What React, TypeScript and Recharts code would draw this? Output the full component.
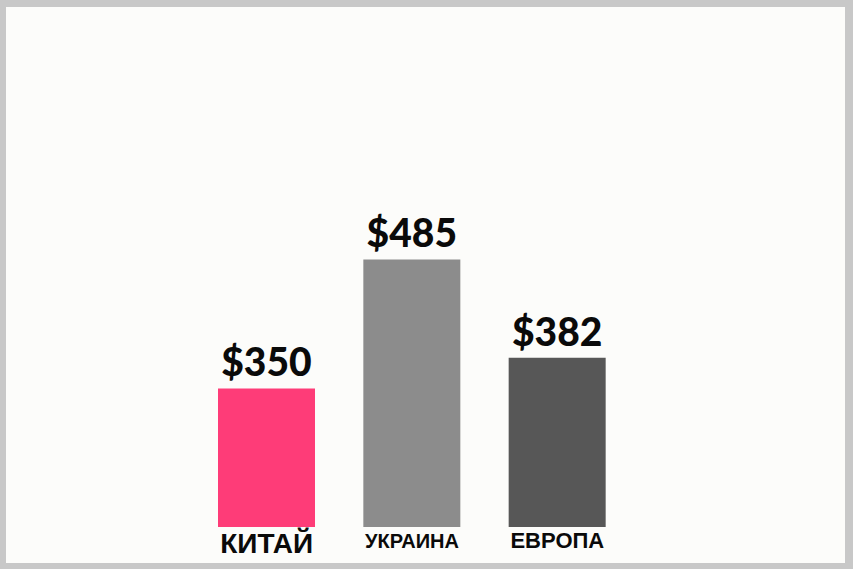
import React from "react";
import { BarChart, Bar, XAxis, YAxis, Cell, LabelList } from "recharts";

const regions = ["КИТАЙ", "УКРАИНА", "ЕВРОПА"];
const prices = [350, 485, 382];

const barColors = ["#fe3c78", "#8c8c8c", "#575757"];
const tickSizes = [28, 20, 22];
const tickDy = [26, 21, 21];

const data = regions.map((region, i) => ({ region, price: prices[i] }));

const RegionTick = (props: any) => {
  const { x, y, payload, index } = props;
  return (
    <text
      x={x}
      y={y}
      dy={tickDy[index] ?? 21}
      textAnchor="middle"
      fill="#0a0a0a"
      fontFamily="'Liberation Sans', Arial, sans-serif"
      fontWeight={700}
      fontSize={tickSizes[index] ?? 20}
    >
      {payload.value}
    </text>
  );
};

export default function App() {
  return (
    <div
      style={{
        position: "absolute",
        left: 0,
        top: 0,
        width: 853,
        height: 569,
        background: "#c8c8c8",
      }}
    >
      <div
        style={{
          position: "absolute",
          left: 6,
          top: 7,
          right: 8,
          bottom: 6,
          background: "#fcfcfa",
        }}
      />
      <div style={{ position: "absolute", left: 0, top: 0 }}>
        <BarChart
          width={853}
          height={569}
          data={data}
          barSize={97}
          margin={{ top: 54, right: 223, bottom: 12, left: 194 }}
        >
          <XAxis
            dataKey="region"
            axisLine={false}
            tickLine={false}
            tickSize={0}
            tickMargin={0}
            height={30}
            interval={0}
            tick={<RegionTick />}
          />
          <YAxis hide domain={[205, 700]} allowDataOverflow />
          <Bar dataKey="price" isAnimationActive={false}>
            {data.map((_, i) => (
              <Cell key={`c-${i}`} fill={barColors[i]} />
            ))}
            <LabelList
              dataKey="price"
              position="top"
              offset={12}
              formatter={(v: any) => `$${v}`}
              fill="#0a0a0a"
              fontFamily="Lato, sans-serif"
              fontWeight={900}
              fontSize={39}
            />
          </Bar>
        </BarChart>
      </div>
    </div>
  );
}
